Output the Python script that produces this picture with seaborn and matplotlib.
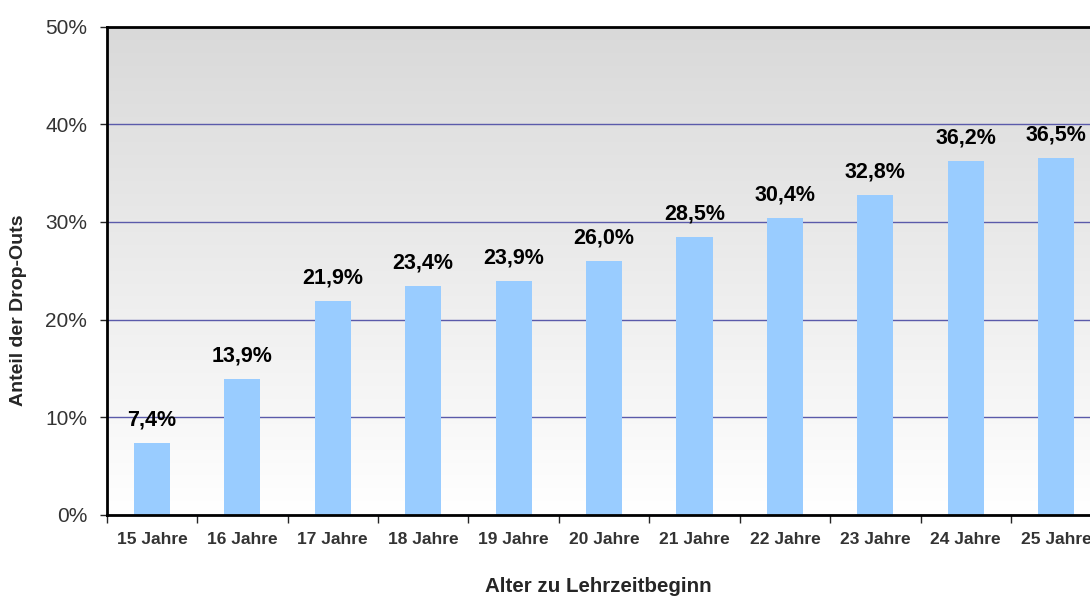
import numpy as np
import pandas as pd
import matplotlib
matplotlib.use("Agg")
import matplotlib.pyplot as plt
import seaborn as sns
from matplotlib.colors import LinearSegmentedColormap
from matplotlib.ticker import FixedLocator

# data
ages = ["15 Jahre", "16 Jahre", "17 Jahre", "18 Jahre", "19 Jahre", "20 Jahre",
        "21 Jahre", "22 Jahre", "23 Jahre", "24 Jahre", "25 Jahre"]
dropout_pct = [7.4, 13.9, 21.9, 23.4, 23.9, 26.0, 28.5, 30.4, 32.8, 36.2, 36.5]
y_ticks = [0, 10, 20, 30, 40, 50]

df = pd.DataFrame({"alter": ages, "anteil": dropout_pct})

sns.set_style("white")
plt.rcParams["font.family"] = ["Liberation Sans", "DejaVu Sans"]

fig = plt.figure(figsize=(10.9, 5.97), dpi=100)
# plot area runs past the right edge like in the original
ax = fig.add_axes([106.7 / 1090, 82 / 597, 994.7 / 1090, 488.5 / 597])

# grey-to-white background
grad = LinearSegmentedColormap.from_list("bg", ["#ffffff", "#d9d9d9"])
ax.imshow(np.linspace(0, 1, 256).reshape(-1, 1), cmap=grad, origin="lower",
          extent=[-0.5, len(ages) - 0.5, 0, 50], aspect="auto", zorder=0)

sns.barplot(data=df, x="alter", y="anteil", color="#99ccff", width=0.4,
            saturation=1, linewidth=0, ax=ax, zorder=2)

ax.set_xlim(-0.5, len(ages) - 0.5)
ax.set_ylim(0, 50)

# gridlines
ax.set_axisbelow(True)
ax.yaxis.grid(True, color="#5a5aaa", linewidth=1, zorder=1)
ax.xaxis.grid(False)

# value labels
labels = [f"{v:.1f}".replace(".", ",") + "%" for v in dropout_pct]
ax.bar_label(ax.containers[0], labels=labels, padding=9,
             fontsize=15.5, fontweight="bold", color="black")

# axes styling
for side in ["left", "bottom", "top"]:
    ax.spines[side].set_visible(True)
    ax.spines[side].set_color("black")
    ax.spines[side].set_linewidth(2)
ax.spines["right"].set_visible(False)

ax.set_yticks(y_ticks)
ax.set_yticklabels([f"{t}%" for t in y_ticks])
ax.tick_params(axis="y", direction="out", length=5, width=1, pad=9,
               labelsize=15, labelcolor="#333333", left=True)

ax.xaxis.set_minor_locator(FixedLocator(np.arange(len(ages) + 1) - 0.5))
ax.tick_params(axis="x", which="major", length=0, pad=12,
               labelsize=12.5, labelcolor="#333333")
ax.tick_params(axis="x", which="minor", direction="out", length=6, width=1,
               bottom=True)
for lbl in ax.get_xticklabels():
    lbl.set_fontweight("bold")

ax.set_xlabel("")
ax.set_ylabel("")
fig.text(19 / 1090, 1 - 310 / 597, "Anteil der Drop-Outs", rotation=90,
         ha="center", va="center", fontsize=14, fontweight="bold")
fig.text(598 / 1090, 1 - 587 / 597, "Alter zu Lehrzeitbeginn",
         ha="center", va="center", fontsize=14.8, fontweight="bold")

fig.savefig("out.png", dpi=100)
